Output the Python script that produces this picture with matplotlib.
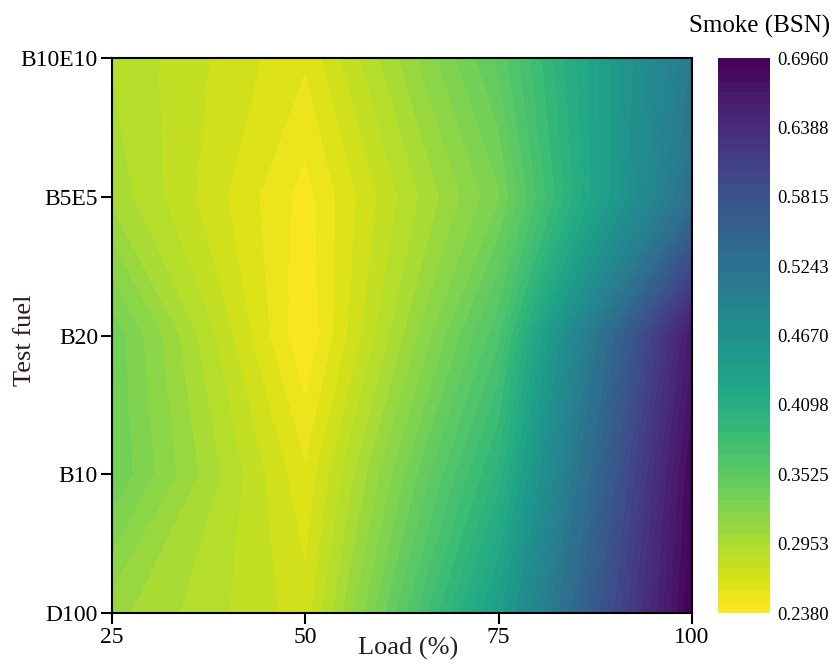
import numpy as np
import matplotlib
matplotlib.use('Agg')
import matplotlib.pyplot as plt

# Smoke opacity (BSN) for each test fuel at each engine load
loads = [25, 50, 75, 100]
fuels = ['D100', 'B10', 'B20', 'B5E5', 'B10E10']

smoke_d100 = [0.307, 0.270, 0.440, 0.696]
smoke_b10 = [0.340, 0.258, 0.400, 0.687]
smoke_b20 = [0.338, 0.238, 0.366, 0.665]
smoke_b5e5 = [0.300, 0.243, 0.330, 0.527]
smoke_b10e10 = [0.293, 0.258, 0.352, 0.510]

plt.rcParams['font.family'] = ['Liberation Serif', 'DejaVu Serif']

Z = np.array([smoke_d100, smoke_b10, smoke_b20, smoke_b5e5, smoke_b10e10])
X, Y = np.meshgrid(loads, np.arange(len(fuels)))

zmin, zmax = Z.min(), Z.max()
levels = np.linspace(zmin, zmax, 50)
cb_ticks = np.linspace(zmin, zmax, 9)

fig = plt.figure(figsize=(8.32, 6.69), dpi=100)
ax = fig.add_axes([0.1346, 0.0837, 0.697, 0.8296])
cax = fig.add_axes([0.863, 0.0837, 0.0625, 0.8296])

cs = ax.contourf(X, Y, Z, levels=levels, cmap='viridis_r')

ax.set_xticks(loads)
ax.set_xticklabels([str(l) for l in loads], fontsize=17)
ax.set_yticks(np.arange(len(fuels)))
ax.set_yticklabels(fuels, fontsize=17)
ax.tick_params(direction='out', length=8, width=1.5, pad=2)
for sp in ax.spines.values():
    sp.set_linewidth(1.5)

ax.set_xlabel('Load (%)', fontsize=19, color='#222222')
ax.xaxis.set_label_coords(0.51, -0.043)
ax.set_ylabel('Test fuel', fontsize=19, color='#2a1c1c')
ax.yaxis.set_label_coords(-0.131, 0.492)

cb = fig.colorbar(cs, cax=cax, ticks=cb_ticks)
# round half up so 0.63875 shows as 0.6388
cb.ax.set_yticklabels(['%.4f' % (t + 1e-9) for t in cb_ticks], fontsize=13.5)
cb.ax.tick_params(length=0, pad=5)
cb.outline.set_visible(False)
fig.text(0.998, 0.952, 'Smoke (BSN)', fontsize=18, ha='right', va='baseline')

fig.savefig('out.png', dpi=100)
